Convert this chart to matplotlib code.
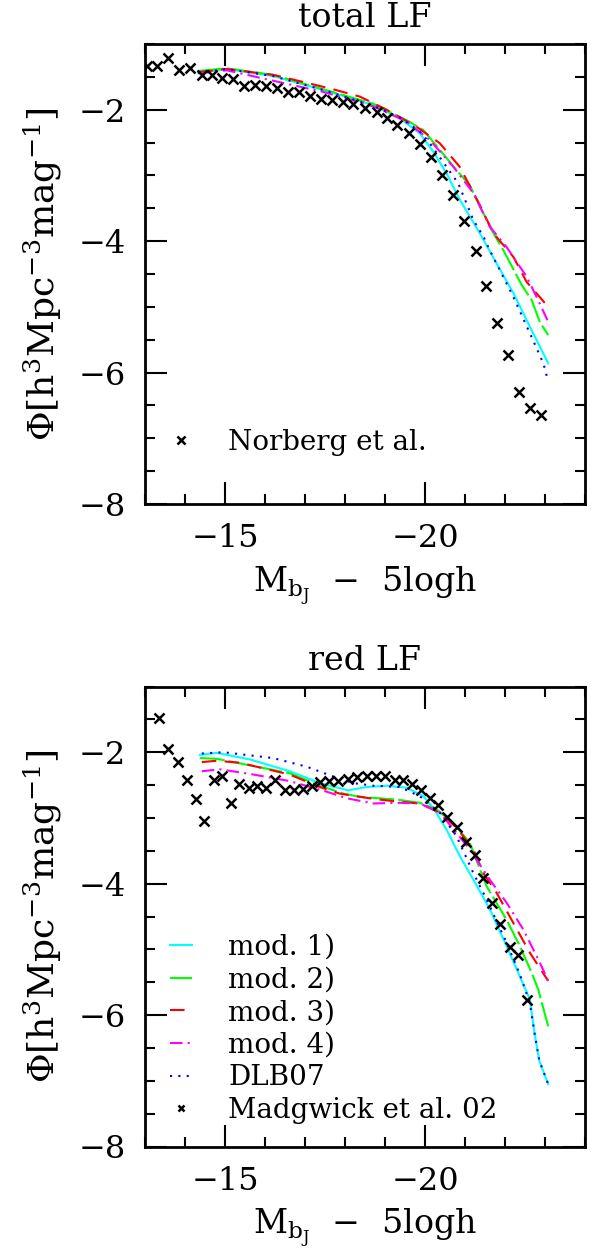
import numpy as np
import matplotlib
matplotlib.use('Agg')
import matplotlib.pyplot as plt
from matplotlib.ticker import MultipleLocator

plt.rcParams['font.family'] = ['DejaVu Serif']
plt.rcParams['mathtext.fontset'] = 'dejavuserif'

# ---------------- total LF (top) ----------------
norberg_M = [-13.05, -13.31, -13.58, -13.86, -14.12, -14.42, -14.67, -14.92, -15.21, -15.48,
             -15.75, -16.03, -16.29, -16.58, -16.86, -17.12, -17.40, -17.67, -17.96, -18.21,
             -18.50, -18.79, -19.04, -19.31, -19.61, -19.87, -20.15, -20.42, -20.71, -20.98,
             -21.27, -21.52, -21.79, -22.08, -22.36, -22.62, -22.90]
norberg_phi = [-1.33, -1.33, -1.22, -1.40, -1.37, -1.47, -1.47, -1.51, -1.54, -1.64,
               -1.62, -1.64, -1.67, -1.73, -1.73, -1.79, -1.83, -1.85, -1.88, -1.91,
               -1.97, -2.03, -2.12, -2.23, -2.36, -2.52, -2.72, -2.99, -3.30, -3.69,
               -4.15, -4.68, -5.24, -5.74, -6.30, -6.54, -6.65]

tot_m1_M = [-14.33, -15.04, -16.21, -17.46, -18.71, -19.37, -19.87, -20.21, -20.54, -20.87,
            -21.37, -21.79, -22.21, -22.62, -23.08]
tot_m1_phi = [-1.44, -1.38, -1.49, -1.70, -1.93, -2.13, -2.36, -2.64, -2.97, -3.37,
              -3.88, -4.34, -4.79, -5.30, -5.86]

tot_m2_M = [-14.33, -15.04, -16.21, -17.46, -18.71, -19.54, -19.96, -20.37, -20.79, -21.12,
            -21.29, -21.71, -21.96, -22.42, -22.67, -22.87, -23.08]
tot_m2_phi = [-1.41, -1.37, -1.47, -1.69, -1.91, -2.16, -2.31, -2.61, -2.92, -3.15,
              -3.37, -3.88, -4.14, -4.67, -4.90, -5.23, -5.43]

tot_m3_M = [-14.33, -15.04, -16.21, -17.04, -17.71, -18.37, -19.04, -19.79, -20.37, -20.87,
            -21.37, -21.71, -22.21, -22.54, -23.08]
tot_m3_phi = [-1.43, -1.38, -1.47, -1.59, -1.69, -1.80, -2.00, -2.26, -2.51, -2.87,
              -3.45, -3.88, -4.24, -4.62, -5.00]

tot_m4_M = [-14.33, -15.04, -17.46, -18.71, -19.54, -20.12, -20.71, -21.21, -21.62, -22.04,
            -22.54, -22.87, -23.08]
tot_m4_phi = [-1.45, -1.40, -1.73, -1.95, -2.18, -2.46, -2.87, -3.27, -3.78, -4.09,
              -4.54, -4.95, -5.23]

tot_dlb_M = [-14.33, -15.04, -16.21, -17.46, -18.71, -19.37, -19.87, -20.12, -20.83, -21.21,
             -21.46, -21.62, -22.21, -22.62, -22.96, -23.08]
tot_dlb_phi = [-1.44, -1.38, -1.49, -1.70, -1.94, -2.12, -2.33, -2.51, -3.12, -3.68,
               -3.93, -4.14, -4.85, -5.40, -5.86, -6.14]

# ---------------- red LF (bottom) ----------------
madg_M = [-13.36, -13.58, -13.82, -14.04, -14.27, -14.48, -14.72, -14.92, -15.14, -15.36,
          -15.59, -15.79, -16.02, -16.25, -16.50, -16.72, -16.96, -17.17, -17.37, -17.61,
          -17.83, -18.08, -18.31, -18.54, -18.77, -19.00, -19.25, -19.46, -19.67, -19.89,
          -20.12, -20.33, -20.56, -20.79, -21.02, -21.25, -21.46, -21.67, -21.87, -22.12,
          -22.33, -22.54]
madg_phi = [-1.48, -1.95, -2.15, -2.42, -2.71, -3.04, -2.42, -2.36, -2.77, -2.48,
            -2.54, -2.51, -2.54, -2.43, -2.57, -2.57, -2.56, -2.52, -2.46, -2.44,
            -2.44, -2.41, -2.37, -2.36, -2.36, -2.36, -2.42, -2.42, -2.49, -2.57,
            -2.69, -2.80, -2.98, -3.14, -3.36, -3.56, -3.91, -4.29, -4.61, -4.96,
            -5.09, -5.77]

red_m1_M = [-14.37, -14.79, -15.62, -16.62, -17.37, -18.08, -18.54, -19.04, -19.54, -19.96,
            -20.21, -20.54, -20.87, -21.21, -21.62, -22.04, -22.37, -22.62, -22.75, -22.86,
            -23.08]
red_m1_phi = [-2.04, -2.01, -2.11, -2.29, -2.47, -2.58, -2.53, -2.51, -2.54, -2.67,
              -2.85, -3.18, -3.58, -3.94, -4.39, -4.95, -5.41, -5.76, -6.32, -6.70,
              -7.05]

red_m2_M = [-14.37, -14.79, -15.54, -16.62, -17.37, -17.96, -18.37, -19.29, -19.87, -20.29,
            -20.71, -21.12, -21.54, -22.04, -22.37, -22.67, -22.83, -23.08]
red_m2_phi = [-2.09, -2.10, -2.19, -2.32, -2.51, -2.63, -2.68, -2.72, -2.77, -2.87,
              -3.08, -3.38, -4.04, -4.55, -4.95, -5.36, -5.61, -6.17]

red_m3_M = [-14.42, -14.79, -15.37, -16.62, -17.37, -17.87, -18.71, -19.29, -19.87, -20.37,
            -20.79, -21.21, -21.46, -21.79, -22.21, -22.62, -23.08]
red_m3_phi = [-2.15, -2.13, -2.16, -2.34, -2.53, -2.63, -2.71, -2.75, -2.78, -2.92,
              -3.15, -3.48, -3.84, -4.14, -4.60, -5.05, -5.48]

red_m4_M = [-14.42, -14.87, -15.62, -16.62, -17.54, -18.04, -18.71, -19.37, -19.87, -20.37,
            -20.79, -21.12, -21.62, -22.04, -22.46, -22.87, -23.08]
red_m4_phi = [-2.29, -2.26, -2.33, -2.44, -2.60, -2.70, -2.78, -2.77, -2.78, -2.92,
              -3.23, -3.48, -3.94, -4.29, -4.70, -5.20, -5.48]

red_dlb_M = [-14.42, -14.96, -16.21, -17.04, -17.71, -18.21, -18.71, -19.37, -19.87, -20.37,
             -20.79, -21.21, -21.54, -22.04, -22.37, -22.62, -22.75, -22.86, -23.08]
red_dlb_phi = [-2.02, -2.00, -2.09, -2.22, -2.37, -2.47, -2.51, -2.53, -2.67, -2.92,
               -3.28, -3.84, -4.24, -4.90, -5.38, -5.81, -6.32, -6.70, -7.05]

labels = ['mod. 1)', 'mod. 2)', 'mod. 3)', 'mod. 4)', 'DLB07']
colors = ['#00ffff', '#00ff00', '#ff0000', '#ff00ff', '#0000ff']
dashes = [(None), (12, 2), (7, 4), (6, 2.5, 1, 2.5), (1, 3)]

fig = plt.figure(figsize=(5.96, 12.53), dpi=100)
ax1 = fig.add_axes([145/596, 1 - 504/1253, 440/596, 460/1253])
ax2 = fig.add_axes([145/596, 1 - 1146.5/1253, 440/596, 460/1253])


def draw_models(ax, curves):
    handles = []
    for (M, phi), lab, c, d in zip(curves, labels, colors, dashes):
        line, = ax.plot(M, phi, color=c, lw=1.5, label=lab)
        if d is not None:
            line.set_dashes(d)
        handles.append(line)
    return handles


def style_axes(ax, title):
    ax.set_xlim(-13, -24)
    ax.set_ylim(-8, -1)
    ax.xaxis.set_major_locator(MultipleLocator(5))
    ax.xaxis.set_minor_locator(MultipleLocator(1))
    ax.yaxis.set_major_locator(MultipleLocator(2))
    ax.yaxis.set_minor_locator(MultipleLocator(0.5))
    ax.tick_params(which='both', direction='in', top=True, right=True, width=1.5)
    ax.tick_params(which='major', length=16, labelsize=23, pad=14)
    ax.tick_params(which='minor', length=7)
    for s in ax.spines.values():
        s.set_linewidth(2)
    ax.set_title(title, fontsize=24, pad=12)
    ax.set_xlabel(r'$\mathrm{M_{b_J}}$  $-$  5logh', fontsize=24, labelpad=7)
    ax.set_ylabel(r'$\Phi[\mathrm{h^3Mpc^{-3}mag^{-1}}]$', fontsize=26, labelpad=10)


# top panel
draw_models(ax1, [(tot_m1_M, tot_m1_phi), (tot_m2_M, tot_m2_phi), (tot_m3_M, tot_m3_phi),
                  (tot_m4_M, tot_m4_phi), (tot_dlb_M, tot_dlb_phi)])
pts1, = ax1.plot(norberg_M, norberg_phi, 'x', color='black', ms=7, mew=1.8, label='Norberg et al.')
style_axes(ax1, 'total LF')
ax1.legend(handles=[pts1], loc='lower left', bbox_to_anchor=(0.0, 0.05), frameon=False,
           fontsize=20, handlelength=0.8, handletextpad=1.3, markerscale=0.9)

# bottom panel
h = draw_models(ax2, [(red_m1_M, red_m1_phi), (red_m2_M, red_m2_phi), (red_m3_M, red_m3_phi),
                      (red_m4_M, red_m4_phi), (red_dlb_M, red_dlb_phi)])
pts2, = ax2.plot(madg_M, madg_phi, 'x', color='black', ms=7, mew=1.8, label='Madgwick et al. 02')
style_axes(ax2, 'red LF')
ax2.legend(handles=h + [pts2], loc='lower left', bbox_to_anchor=(0.0, -0.005), frameon=False,
           fontsize=20, handlelength=0.8, handletextpad=1.3, labelspacing=0.2, markerscale=0.65)

plt.savefig('out.png', dpi=100)
plt.close()
